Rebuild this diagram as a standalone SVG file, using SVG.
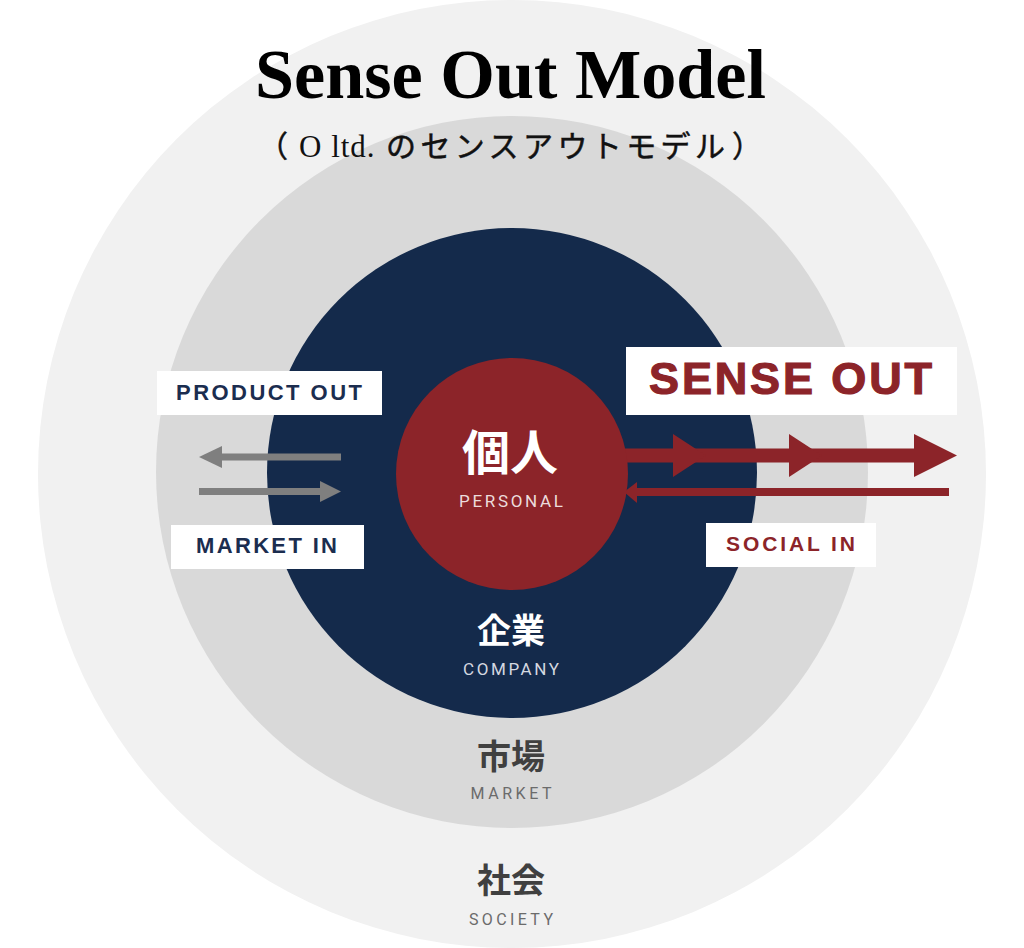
<svg xmlns="http://www.w3.org/2000/svg" width="1024" height="948" viewBox="0 0 1024 948">
  <style>
    .title { font-family: "Liberation Serif", "Times New Roman", serif; font-weight: 700; fill: #000; }
    .sub { font-family: "Liberation Serif", "Noto Sans CJK JP", serif; fill: #111; font-size: 30px; }
    .kana { font-family: "Noto Sans CJK JP", sans-serif; stroke: #111; stroke-width: 0.5; }
    .tag { font-family: "Liberation Sans", Arial, sans-serif; font-weight: 700; }
    .jp { font-family: "Noto Sans CJK JP", sans-serif; font-weight: 700; text-anchor: middle; }
    .en { font-family: Roboto, "Liberation Sans", sans-serif; font-weight: 400; text-anchor: middle; }
    .box { fill: #ffffff; }
    .gray { fill: #7f7f7f; }
    .red { fill: #8c2429; }
  </style>
  <rect width="1024" height="948" fill="#ffffff"/>

  <g id="society">
    <circle cx="512" cy="474" r="474" fill="#f1f1f1"/>
    <text class="jp" x="511" y="893" font-size="34" fill="#404040">社会</text>
    <text class="en" x="511" y="925" font-size="16" fill="#6b6b6b" textLength="84" lengthAdjust="spacing">SOCIETY</text>
  </g>

  <g id="market">
    <circle cx="512" cy="472" r="356" fill="#d9d9d9"/>
    <text class="jp" x="511" y="769" font-size="34" fill="#404040">市場</text>
    <text class="en" x="511" y="799" font-size="16" fill="#6b6b6b" textLength="81" lengthAdjust="spacing">MARKET</text>
  </g>

  <g id="company">
    <circle cx="512" cy="473" r="245" fill="#142a4b"/>
    <text class="jp" x="511" y="643" font-size="34" fill="#ffffff">企業</text>
    <text class="en" x="511" y="675" font-size="17" fill="#d4d8e0" textLength="96" lengthAdjust="spacing">COMPANY</text>
  </g>

  <g id="connectors">
    <!-- product out (left) -->
    <rect class="gray" x="219" y="453.5" width="122" height="7"/>
    <polygon class="gray" points="199,457 222,446 222,468"/>
    <!-- market in (right) -->
    <rect class="gray" x="199" y="488" width="123" height="7"/>
    <polygon class="gray" points="341,491.5 320,481 320,502"/>
    <!-- sense out -->
    <rect class="red" x="600" y="448.5" width="316" height="14"/>
    <polygon class="red" points="673,434 706,455.5 673,477"/>
    <polygon class="red" points="789,434 822,455.5 789,477"/>
    <polygon class="red" points="914,434 957,455.5 914,477"/>
    <!-- social in -->
    <rect class="red" x="630" y="488" width="319" height="8"/>
    <polygon class="red" points="624,492 637,482 637,503"/>
  </g>

  <g id="personal">
    <circle cx="512" cy="474" r="116" fill="#8c2429"/>
    <text class="jp" x="510" y="470" font-size="48" fill="#ffffff">個人</text>
    <text class="en" x="511" y="507" font-size="17" fill="#ecdcdc" textLength="104" lengthAdjust="spacing">PERSONAL</text>
  </g>

  <g id="label-product-out">
    <rect class="box" x="157" y="371" width="225" height="44"/>
    <text class="tag" x="176" y="400" font-size="22" fill="#1b2d4f" textLength="186" lengthAdjust="spacing">PRODUCT OUT</text>
  </g>

  <g id="label-market-in">
    <rect class="box" x="171" y="525" width="193" height="44"/>
    <text class="tag" x="196" y="553" font-size="22" fill="#1b2d4f" textLength="141" lengthAdjust="spacing">MARKET IN</text>
  </g>

  <g id="label-sense-out">
    <rect class="box" x="626" y="347" width="331" height="68"/>
    <text class="tag" x="649" y="394" font-size="45" fill="#8c2429" stroke="#8c2429" stroke-width="1.2" textLength="283" lengthAdjust="spacing">SENSE OUT</text>
  </g>

  <g id="label-social-in">
    <rect class="box" x="706" y="523" width="170" height="44"/>
    <text class="tag" x="726" y="551" font-size="21" fill="#8c2429" textLength="129" lengthAdjust="spacing">SOCIAL IN</text>
  </g>

  <g id="title">
    <text class="title" x="255" y="98" font-size="70" textLength="511" lengthAdjust="spacingAndGlyphs">Sense Out Model</text>
    <text class="sub" y="157"><tspan class="kana" x="258">（</tspan><tspan x="299" font-size="31" letter-spacing="1">O ltd.</tspan><tspan class="kana" x="386" letter-spacing="4.4">のセンスアウトモデル</tspan><tspan class="kana" x="732">）</tspan></text>
  </g>
</svg>
